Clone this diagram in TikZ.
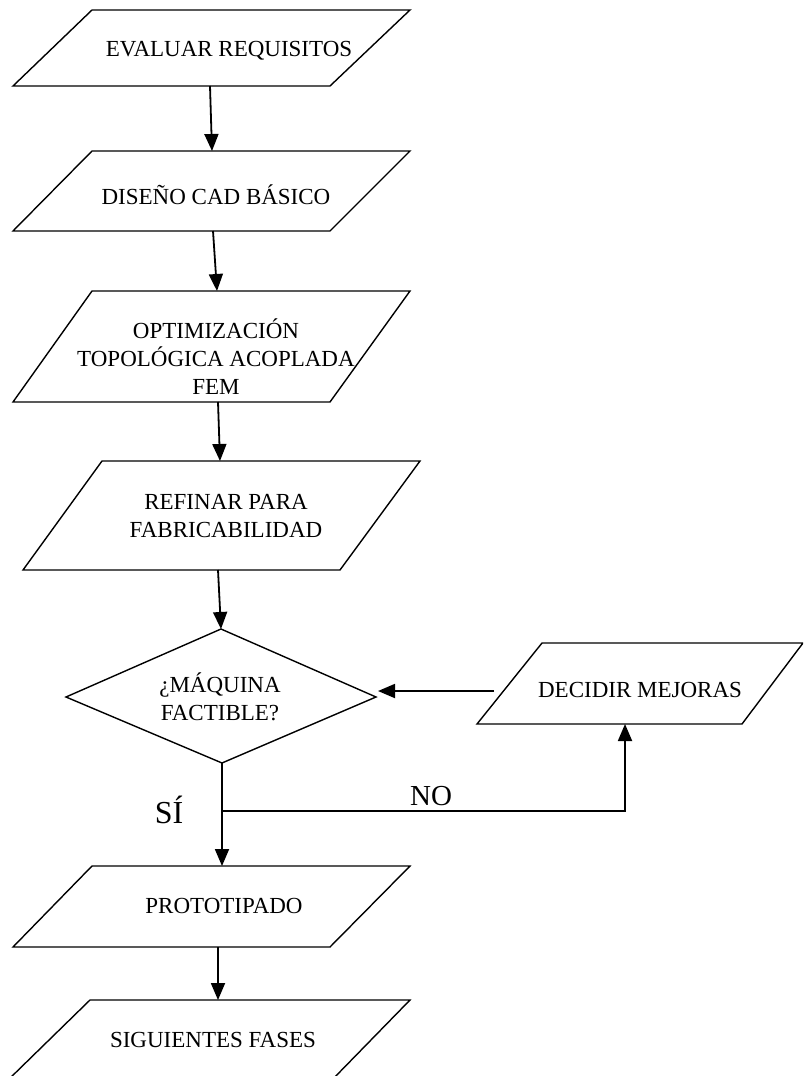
\documentclass[tikz,border=0pt]{standalone}
\usepackage{fontspec}
\setmainfont{Liberation Serif}
\usetikzlibrary{arrows.meta}
\begin{document}
\begin{tikzpicture}[x=1pt,y=-1pt,
  outline/.style={draw=black, line width=1.4pt, line join=miter},
  flow/.style={line width=1.8pt, -{Triangle[length=17pt,width=14pt]}},
  plainline/.style={line width=1.8pt},
  txt/.style={font=\fontsize{23}{28}\selectfont, align=center, inner sep=0pt},
  branchtxt/.style={font=\fontsize{#1}{#1}\selectfont, inner sep=0pt},
  ]
\useasboundingbox (0,0) rectangle (803,1076);
\clip (0,0) rectangle (803,1076);

% process boxes (parallelograms)
\draw[outline] (92,10) -- (410,10) -- (330,86) -- (13,86) -- cycle;
\draw[outline] (92,151) -- (410,151) -- (330,231) -- (13,231) -- cycle;
\draw[outline] (92,291) -- (410,291) -- (330,402) -- (13,402) -- cycle;
\draw[outline] (102,461) -- (420,461) -- (340,570) -- (23,570) -- cycle;
\draw[outline] (542,643) -- (803,643) -- (742,724) -- (477,724) -- cycle;
\draw[outline] (92,866) -- (410,866) -- (330,947) -- (13,947) -- cycle;
\draw[outline] (90,1000) -- (410,1000) -- (330,1082) -- (6,1082) -- cycle;

% decision
\draw[outline] (221,629) -- (376,697) -- (222,763) -- (66,697) -- cycle;

% texts
\node[txt] (evaluar) at (229,51) {EVALUAR REQUISITOS};
\node[txt] (diseno) at (216,195) {DISEÑO CAD BÁSICO};
\node[txt] (optim) at (216,357) {OPTIMIZACIÓN\\TOPOLÓGICA ACOPLADA\\FEM};
\node[txt] (refinar) at (226,516) {REFINAR PARA\\FABRICABILIDAD};
\node[txt] (maquina) at (220,697) {¿MÁQUINA\\FACTIBLE?};
\node[txt] (decidir) at (640,690) {DECIDIR MEJORAS};
\node[txt] (proto) at (224,906) {PROTOTIPADO};
\node[txt] (sigue) at (213,1040) {SIGUIENTES FASES};
\node[branchtxt=32] (si) at (169,810) {SÍ};
\node[branchtxt=29] (no) at (431,796) {NO};

% connector end points on the shape outlines
\coordinate (evaluarS) at (210,86);
\coordinate (disenoN) at (212,151);
\coordinate (disenoS) at (213,231);
\coordinate (optimN) at (217,291);
\coordinate (optimS) at (218,402);
\coordinate (refinarN) at (220,461);
\coordinate (refinarS) at (218,570);
\coordinate (maquinaN) at (221,629);
\coordinate (maquinaS) at (222,763);
\coordinate (maquinaE) at (378,691);
\coordinate (split) at (222,811);
\coordinate (corner) at (625,811);
\coordinate (decidirS) at (625,724);
\coordinate (decidirW) at (494,691);
\coordinate (protoN) at (222,866);
\coordinate (protoS) at (218,947);
\coordinate (sigueN) at (218,1000);

% connectors
\draw[flow] (evaluarS) -- (disenoN);
\draw[flow] (disenoS) -- (optimN);
\draw[flow] (optimS) -- (refinarN);
\draw[flow] (refinarS) -- (maquinaN);
\draw[flow] (maquinaS) -- (protoN);
\draw[flow] (split) -- (corner) -- (decidirS);
\draw[flow] (decidirW) -- (maquinaE);
\draw[flow] (protoS) -- (sigueN);
\end{tikzpicture}
\end{document}
